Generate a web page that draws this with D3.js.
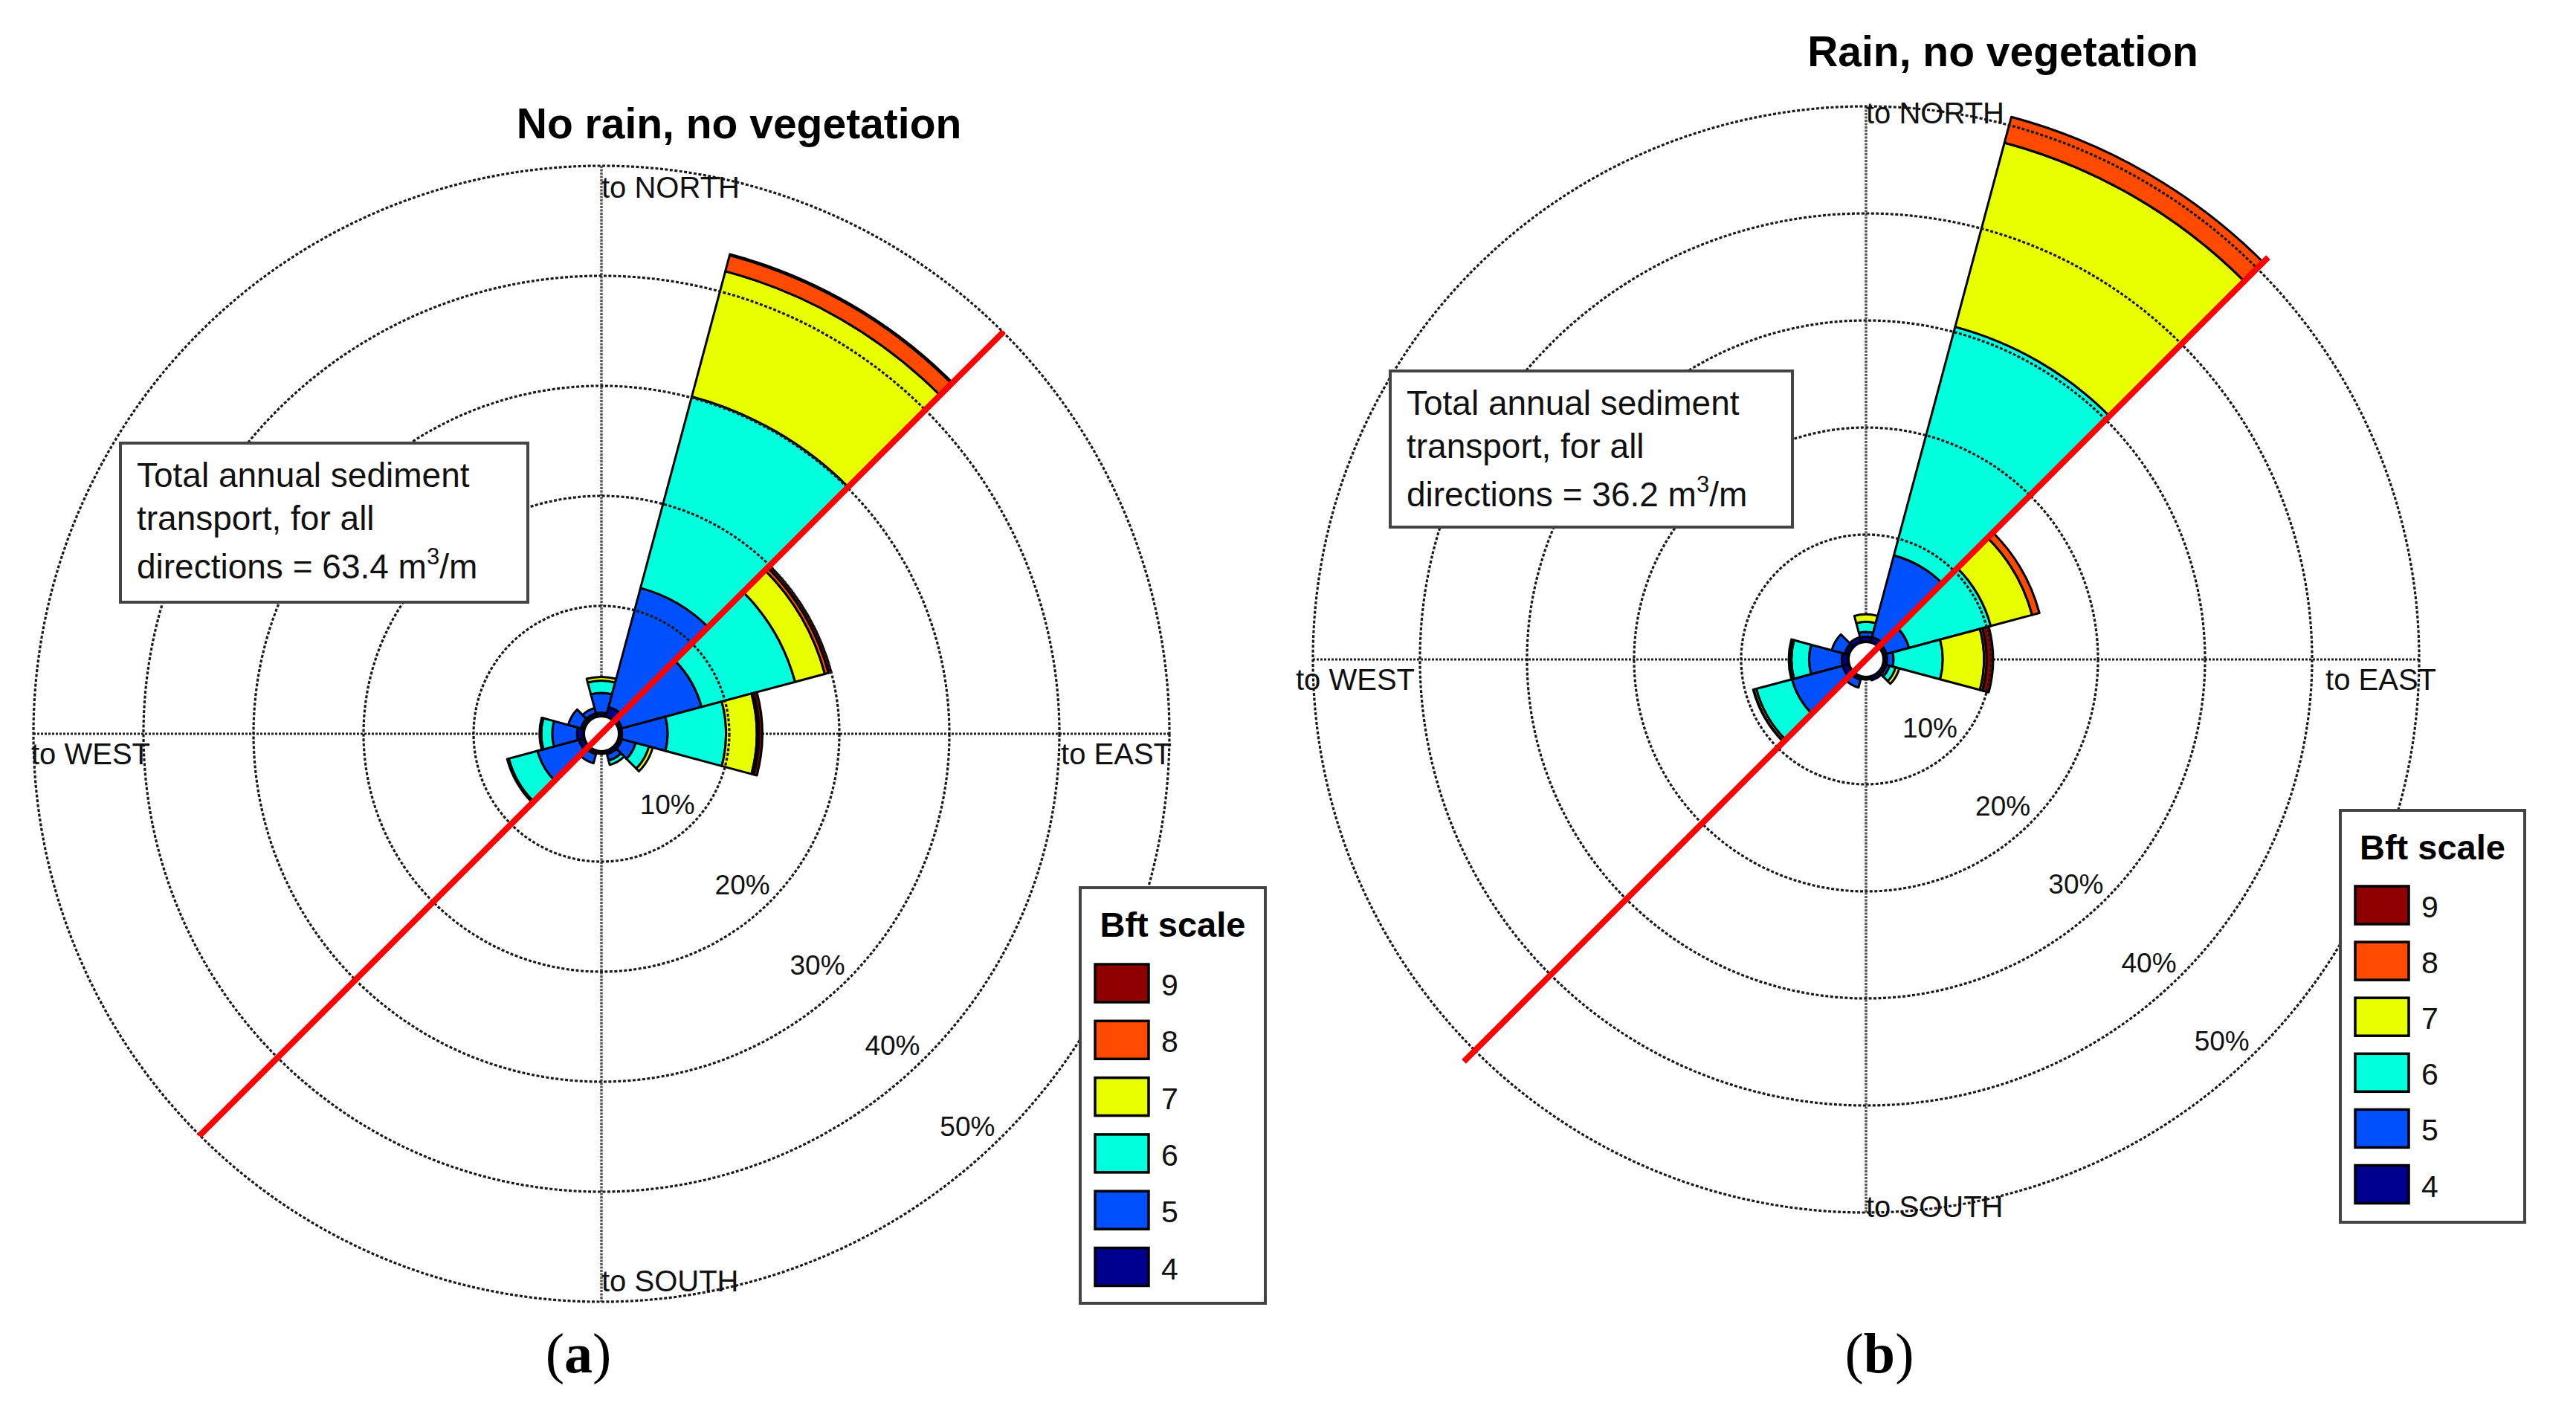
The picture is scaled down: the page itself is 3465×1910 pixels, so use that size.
<!DOCTYPE html>
<html><head><meta charset="utf-8">
<script src="https://cdn.jsdelivr.net/npm/d3@7"></script>
<style>body{margin:0;background:#fff} svg{display:block;font-family:"Liberation Sans",Arial,sans-serif}</style>
</head><body>
<svg id="chart" width="3465" height="1910"></svg>
<script>
// ---------------- DATA ----------------
const bftClasses = ["4", "5", "6", "7", "8", "9"];
const bftColors  = ["#00008F", "#0050FF", "#00FFDC", "#E8FF00", "#FF4A00", "#8F0000"];
const directions = [0, 30, 60, 90, 120, 150, 180, 210, 240, 270, 300, 330]; // "to" direction, deg from north
const ringTicks  = [10, 20, 30, 40, 50];
const tickLabels = ["10%", "20%", "30%", "40%", "50%"];
const dirLabels  = ["to NORTH", "to EAST", "to SOUTH", "to WEST"];
const legendTitle = "Bft scale";

// (a) No rain, no vegetation — cumulative % at outer edge of each Bft class
const noRainBft4 = [0.3, 0.9, 0.3, 0.25, 0.3, 0.3, 0.2, 0.3, 0.5, 0.6, 0.3, 0.3];
const noRainBft5 = [2.1, 12.1, 7.8, 4.4, 1.6, 0.9, 0.2, 1.15, 4.4, 2.85, 1.5, 0.8];
const noRainBft6 = [3.2, 30.1, 16.6, 9.7, 2.85, 1.3, 0.2, 1.15, 7.1, 3.85, 1.5, 0.8];
const noRainBft7 = [3.55, 41.9, 19.4, 12.5, 3.2, 1.3, 0.2, 1.15, 7.25, 4.0, 1.5, 0.8];
const noRainBft8 = [3.55, 43.4, 19.75, 12.7, 3.2, 1.3, 0.2, 1.15, 7.25, 4.0, 1.5, 0.8];
const noRainBft9 = [3.55, 43.5, 20.0, 13.0, 3.2, 1.3, 0.2, 1.15, 7.25, 4.0, 1.5, 0.8];

// (b) Rain, no vegetation — cumulative %
const rainBft4 = [0.45, 0.5, 0.3, 0.3, 0.3, 0.35, 0.2, 0.3, 0.6, 0.6, 0.4, 0.5];
const rainBft5 = [0.9, 8.4, 2.5, 0.9, 0.6, 0.35, 0.2, 1.05, 5.5, 3.65, 1.65, 0.5];
const rainBft6 = [1.85, 30.5, 10.4, 5.5, 1.2, 0.35, 0.2, 1.05, 8.95, 5.3, 1.65, 0.5];
const rainBft7 = [2.55, 48.3, 14.4, 9.35, 1.55, 0.35, 0.2, 1.05, 9.2, 5.5, 1.65, 0.5];
const rainBft8 = [2.55, 50.8, 15.1, 9.6, 1.55, 0.35, 0.2, 1.05, 9.2, 5.5, 1.65, 0.5];
const rainBft9 = [2.55, 50.8, 15.1, 10.2, 1.55, 0.35, 0.2, 1.05, 9.25, 5.55, 1.65, 0.5];

const titles = ["No rain, no vegetation", "Rain, no vegetation"];
const totals = ["63.4", "36.2"];
const panelLetters = ["a", "b"];
const shoreDirection = 45; // red line orientation

// ---------------- LAYOUT ----------------
const panels = [
  { cx: 809, cy: 987, r0: 24, r50: 764, series: [noRainBft4, noRainBft5, noRainBft6, noRainBft7, noRainBft8, noRainBft9],
    titleY: 186, titleX: 994, box: [162, 596, 548, 214], legend: [1453, 1194, 249, 559], legTop: 1297, legStep: 76.3, panelX: 778 },
  { cx: 2510, cy: 887, r0: 24, r50: 744, series: [rainBft4, rainBft5, rainBft6, rainBft7, rainBft8, rainBft9],
    titleY: 89, titleX: 2694, box: [1870, 499, 541, 210], legend: [3148, 1090, 248, 554], legTop: 1192, legStep: 75.1, panelX: 2528 }
];

const svg = d3.select("#chart");
const rad = Math.PI / 180;

panels.forEach((p, pi) => {
  const g = svg.append("g").attr("transform", `translate(${p.cx},${p.cy})`);
  const r = d3.scaleLinear().domain([0, 50]).range([p.r0, p.r50]);
  const R = r(50);

  // axes
  g.append("line").attr("x1", 0).attr("x2", 0).attr("y1", -R).attr("y2", R)
    .attr("stroke", "#555").attr("stroke-width", 3.5).attr("stroke-dasharray", "3,1.5");
  g.append("line").attr("x1", -R).attr("x2", R).attr("y1", 0).attr("y2", 0)
    .attr("stroke", "#222").attr("stroke-width", 3).attr("stroke-dasharray", "3,2");

  // bars
  const segs = [];
  directions.forEach((dir, i) => {
    p.series.forEach((arr, c) => {
      const lo = c === 0 ? 0 : p.series[c - 1][i];
      const hi = arr[i];
      if (hi - lo > 0.001) segs.push({ dir, lo, hi, c });
    });
  });
  const arc = d3.arc()
    .innerRadius(d => r(d.lo)).outerRadius(d => r(d.hi))
    .startAngle(d => (d.dir - 15) * rad).endAngle(d => (d.dir + 15) * rad);
  g.append("g").selectAll("path").data(segs).join("path")
    .attr("d", arc).attr("fill", d => bftColors[d.c])
    .attr("stroke", "#000").attr("stroke-width", 3).attr("stroke-linejoin", "round");

  // rings
  g.append("g").selectAll("circle").data(ringTicks).join("circle")
    .attr("r", d => r(d)).attr("fill", "none")
    .attr("stroke", "#1a1a1a").attr("stroke-width", 3.2).attr("stroke-dasharray", "4,2.5");

  // hole
  g.append("circle").attr("r", p.r0).attr("fill", "#fff").attr("stroke", "#000").attr("stroke-width", 4);

  // ring labels
  const la = 137 * rad;
  g.append("g").selectAll("text").data(ringTicks).join("text")
    .attr("x", d => (r(d) - 42) * Math.sin(la))
    .attr("y", d => -(r(d) - 42) * Math.cos(la))
    .attr("text-anchor", "middle").attr("dominant-baseline", "central")
    .attr("font-size", 37).attr("fill", "#111")
    .text((d, i) => tickLabels[i]);

  // direction labels
  const dl = g.append("g").attr("font-size", 40).attr("fill", "#111");
  dl.append("text").attr("x", 0).attr("y", -721).text(dirLabels[0]);
  dl.append("text").attr("x", 767).attr("y", 41).attr("text-anchor", "end").text(dirLabels[1]);
  dl.append("text").attr("x", 0).attr("y", 750).text(dirLabels[2]);
  dl.append("text").attr("x", -767).attr("y", 41).text(dirLabels[3]);

  // red shoreline
  const Rl = 765;
  g.append("line")
    .attr("x1", Rl * Math.sin(shoreDirection * rad)).attr("y1", -Rl * Math.cos(shoreDirection * rad))
    .attr("x2", -Rl * Math.sin(shoreDirection * rad)).attr("y2", Rl * Math.cos(shoreDirection * rad))
    .attr("stroke", "#FF0000").attr("stroke-width", 8);

  // title
  svg.append("text").attr("x", p.titleX).attr("y", p.titleY).attr("text-anchor", "middle")
    .attr("font-size", 57).attr("font-weight", "bold").text(titles[pi]);

  // info box
  const [bx, by, bw, bh] = p.box;
  svg.append("rect").attr("x", bx).attr("y", by).attr("width", bw).attr("height", bh)
    .attr("fill", "#fff").attr("stroke", "#444").attr("stroke-width", 4);
  const tb = svg.append("g").attr("font-size", 46).attr("fill", "#111");
  tb.append("text").attr("x", bx + 22).attr("y", by + 59).text("Total annual sediment");
  tb.append("text").attr("x", bx + 22).attr("y", by + 117).text("transport, for all");
  const t3 = tb.append("text").attr("x", bx + 22).attr("y", by + 182);
  t3.append("tspan").text(`directions = ${totals[pi]} m`);
  t3.append("tspan").attr("dy", -19).attr("font-size", 31).text("3");
  t3.append("tspan").attr("dy", 19).text("/m");

  // legend
  const [lx, ly, lw, lh] = p.legend;
  svg.append("rect").attr("x", lx).attr("y", ly).attr("width", lw).attr("height", lh)
    .attr("fill", "#fff").attr("stroke", "#444").attr("stroke-width", 4);
  svg.append("text").attr("x", lx + lw / 2).attr("y", ly + 66).attr("text-anchor", "middle")
    .attr("font-size", 47).attr("font-weight", "bold").text(legendTitle);
  const order = [5, 4, 3, 2, 1, 0];
  order.forEach((c, k) => {
    const y = p.legTop + k * p.legStep;
    svg.append("rect").attr("x", lx + 20).attr("y", y).attr("width", 72).attr("height", 51)
      .attr("fill", bftColors[c]).attr("stroke", "#000").attr("stroke-width", 3.5);
    svg.append("text").attr("x", lx + 109).attr("y", y + 42).attr("font-size", 41).attr("fill", "#111")
      .text(bftClasses[c]);
  });

  // panel letter
  const pl = svg.append("text").attr("x", p.panelX).attr("y", 1846).attr("text-anchor", "middle")
    .attr("font-family", "'Liberation Serif','Times New Roman',serif").attr("font-size", 76).attr("fill", "#000");
  pl.append("tspan").text("(");
  pl.append("tspan").attr("font-weight", "bold").text(panelLetters[pi]);
  pl.append("tspan").text(")");
});
</script></body></html>
